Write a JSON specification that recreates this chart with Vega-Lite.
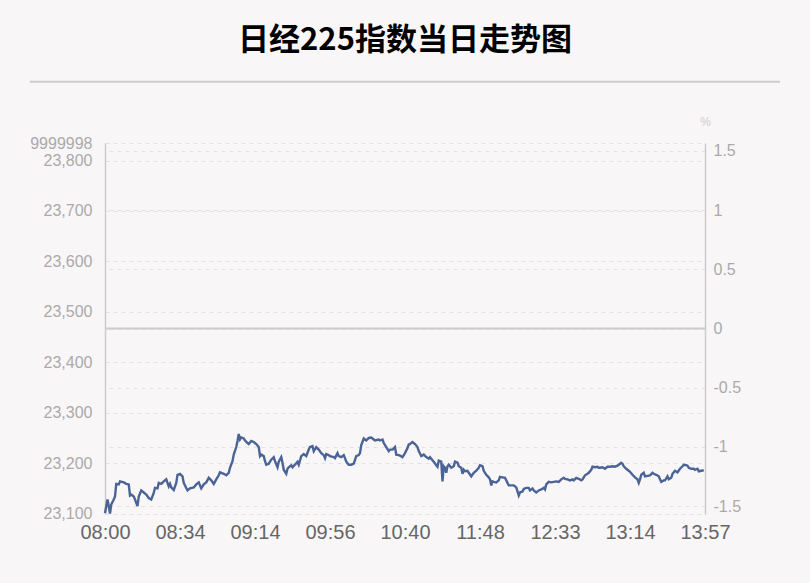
{
  "$schema": "https://vega.github.io/schema/vega-lite/v6.json",
  "width": 600,
  "height": 371,
  "autosize": "none",
  "padding": {"left": 105, "top": 143, "right": 105, "bottom": 69},
  "background": "#f9f6f7",
  "title": {
    "text": "日经225指数当日走势图",
    "font": "Noto Sans CJK SC",
    "fontSize": 31,
    "fontWeight": "bold",
    "color": "#000000",
    "anchor": "middle",
    "frame": "group",
    "offset": 24
  },
  "data": {
    "values": [
      {"i": 0, "v": 23101}, {"i": 2, "v": 23128}, {"i": 3, "v": 23115}, {"i": 4, "v": 23100},
      {"i": 5, "v": 23118}, {"i": 7, "v": 23128}, {"i": 8, "v": 23134}, {"i": 9, "v": 23159},
      {"i": 11, "v": 23158}, {"i": 12, "v": 23164}, {"i": 15, "v": 23162}, {"i": 17, "v": 23159},
      {"i": 19, "v": 23158}, {"i": 20, "v": 23136}, {"i": 21, "v": 23138}, {"i": 23, "v": 23134},
      {"i": 24, "v": 23128}, {"i": 26, "v": 23115}, {"i": 27, "v": 23134}, {"i": 29, "v": 23146},
      {"i": 31, "v": 23142}, {"i": 33, "v": 23138}, {"i": 35, "v": 23131}, {"i": 37, "v": 23128},
      {"i": 39, "v": 23141}, {"i": 40, "v": 23151}, {"i": 42, "v": 23150}, {"i": 43, "v": 23161},
      {"i": 45, "v": 23159}, {"i": 47, "v": 23164}, {"i": 49, "v": 23168}, {"i": 51, "v": 23154},
      {"i": 52, "v": 23159}, {"i": 53, "v": 23152}, {"i": 55, "v": 23147}, {"i": 57, "v": 23161},
      {"i": 58, "v": 23177}, {"i": 60, "v": 23179}, {"i": 62, "v": 23174}, {"i": 63, "v": 23161},
      {"i": 65, "v": 23151}, {"i": 66, "v": 23146}, {"i": 68, "v": 23150}, {"i": 71, "v": 23152},
      {"i": 73, "v": 23158}, {"i": 75, "v": 23162}, {"i": 77, "v": 23150}, {"i": 79, "v": 23158},
      {"i": 81, "v": 23162}, {"i": 83, "v": 23171}, {"i": 85, "v": 23166}, {"i": 87, "v": 23159},
      {"i": 89, "v": 23168}, {"i": 91, "v": 23176}, {"i": 92, "v": 23182}, {"i": 95, "v": 23179},
      {"i": 97, "v": 23176}, {"i": 99, "v": 23181}, {"i": 100, "v": 23191}, {"i": 102, "v": 23204},
      {"i": 103, "v": 23217}, {"i": 105, "v": 23232}, {"i": 106, "v": 23244}, {"i": 107, "v": 23258},
      {"i": 108, "v": 23247}, {"i": 109, "v": 23251}, {"i": 111, "v": 23249}, {"i": 112, "v": 23245},
      {"i": 114, "v": 23240}, {"i": 115, "v": 23238}, {"i": 117, "v": 23244}, {"i": 119, "v": 23242},
      {"i": 121, "v": 23238}, {"i": 123, "v": 23232}, {"i": 124, "v": 23214}, {"i": 125, "v": 23217},
      {"i": 127, "v": 23214}, {"i": 128, "v": 23204}, {"i": 129, "v": 23197}, {"i": 131, "v": 23199},
      {"i": 133, "v": 23207}, {"i": 135, "v": 23212}, {"i": 136, "v": 23204}, {"i": 138, "v": 23192},
      {"i": 139, "v": 23203}, {"i": 141, "v": 23212}, {"i": 142, "v": 23201}, {"i": 143, "v": 23187},
      {"i": 145, "v": 23179}, {"i": 146, "v": 23189}, {"i": 147, "v": 23192}, {"i": 149, "v": 23196},
      {"i": 150, "v": 23192}, {"i": 152, "v": 23197}, {"i": 154, "v": 23203}, {"i": 155, "v": 23197},
      {"i": 157, "v": 23214}, {"i": 159, "v": 23218}, {"i": 161, "v": 23214}, {"i": 163, "v": 23227},
      {"i": 164, "v": 23232}, {"i": 166, "v": 23234}, {"i": 167, "v": 23224}, {"i": 169, "v": 23232},
      {"i": 171, "v": 23227}, {"i": 173, "v": 23220}, {"i": 175, "v": 23216}, {"i": 176, "v": 23210},
      {"i": 177, "v": 23218}, {"i": 179, "v": 23216}, {"i": 180, "v": 23214}, {"i": 183, "v": 23212},
      {"i": 184, "v": 23210}, {"i": 186, "v": 23220}, {"i": 187, "v": 23214}, {"i": 189, "v": 23212},
      {"i": 191, "v": 23216}, {"i": 192, "v": 23210}, {"i": 193, "v": 23203}, {"i": 195, "v": 23197},
      {"i": 197, "v": 23197}, {"i": 199, "v": 23199}, {"i": 201, "v": 23214}, {"i": 203, "v": 23216},
      {"i": 204, "v": 23220}, {"i": 205, "v": 23236}, {"i": 207, "v": 23249}, {"i": 208, "v": 23247},
      {"i": 209, "v": 23245}, {"i": 211, "v": 23250}, {"i": 213, "v": 23251}, {"i": 215, "v": 23247},
      {"i": 216, "v": 23245}, {"i": 219, "v": 23247}, {"i": 220, "v": 23245}, {"i": 222, "v": 23247},
      {"i": 223, "v": 23240}, {"i": 225, "v": 23232}, {"i": 227, "v": 23224}, {"i": 228, "v": 23227},
      {"i": 230, "v": 23227}, {"i": 232, "v": 23232}, {"i": 233, "v": 23217}, {"i": 235, "v": 23216},
      {"i": 236, "v": 23215}, {"i": 238, "v": 23212}, {"i": 240, "v": 23220}, {"i": 242, "v": 23230},
      {"i": 243, "v": 23237}, {"i": 244, "v": 23238}, {"i": 246, "v": 23242}, {"i": 248, "v": 23238},
      {"i": 250, "v": 23232}, {"i": 251, "v": 23224}, {"i": 253, "v": 23214}, {"i": 255, "v": 23217},
      {"i": 257, "v": 23212}, {"i": 259, "v": 23209}, {"i": 260, "v": 23212}, {"i": 262, "v": 23206},
      {"i": 263, "v": 23203}, {"i": 265, "v": 23196}, {"i": 266, "v": 23193}, {"i": 267, "v": 23205},
      {"i": 269, "v": 23203}, {"i": 270, "v": 23164}, {"i": 271, "v": 23194}, {"i": 272, "v": 23191},
      {"i": 273, "v": 23181}, {"i": 274, "v": 23194}, {"i": 275, "v": 23197}, {"i": 277, "v": 23191},
      {"i": 279, "v": 23194}, {"i": 280, "v": 23203}, {"i": 282, "v": 23201}, {"i": 283, "v": 23194},
      {"i": 285, "v": 23191}, {"i": 286, "v": 23179}, {"i": 287, "v": 23187}, {"i": 288, "v": 23184},
      {"i": 290, "v": 23185}, {"i": 291, "v": 23181}, {"i": 293, "v": 23174}, {"i": 295, "v": 23181},
      {"i": 297, "v": 23185}, {"i": 299, "v": 23191}, {"i": 300, "v": 23196}, {"i": 302, "v": 23194},
      {"i": 303, "v": 23185}, {"i": 305, "v": 23177}, {"i": 307, "v": 23172}, {"i": 308, "v": 23168},
      {"i": 309, "v": 23156}, {"i": 310, "v": 23164}, {"i": 311, "v": 23163}, {"i": 313, "v": 23162},
      {"i": 315, "v": 23166}, {"i": 316, "v": 23173}, {"i": 318, "v": 23172}, {"i": 320, "v": 23171},
      {"i": 322, "v": 23161}, {"i": 323, "v": 23156}, {"i": 325, "v": 23156}, {"i": 327, "v": 23156},
      {"i": 329, "v": 23152}, {"i": 330, "v": 23144}, {"i": 331, "v": 23136}, {"i": 332, "v": 23142},
      {"i": 334, "v": 23144}, {"i": 335, "v": 23149}, {"i": 337, "v": 23151}, {"i": 339, "v": 23151},
      {"i": 340, "v": 23146}, {"i": 342, "v": 23150}, {"i": 343, "v": 23146}, {"i": 345, "v": 23142},
      {"i": 347, "v": 23146}, {"i": 349, "v": 23148}, {"i": 351, "v": 23151}, {"i": 352, "v": 23148},
      {"i": 353, "v": 23158}, {"i": 355, "v": 23163}, {"i": 357, "v": 23162}, {"i": 359, "v": 23163},
      {"i": 361, "v": 23164}, {"i": 363, "v": 23163}, {"i": 365, "v": 23168}, {"i": 367, "v": 23171},
      {"i": 368, "v": 23169}, {"i": 370, "v": 23168}, {"i": 372, "v": 23166}, {"i": 374, "v": 23168},
      {"i": 375, "v": 23166}, {"i": 377, "v": 23171}, {"i": 379, "v": 23169}, {"i": 381, "v": 23166},
      {"i": 382, "v": 23168}, {"i": 384, "v": 23176}, {"i": 386, "v": 23179}, {"i": 387, "v": 23181},
      {"i": 389, "v": 23187}, {"i": 390, "v": 23193}, {"i": 392, "v": 23192}, {"i": 394, "v": 23193},
      {"i": 395, "v": 23191}, {"i": 396, "v": 23191}, {"i": 398, "v": 23192}, {"i": 400, "v": 23189},
      {"i": 402, "v": 23193}, {"i": 404, "v": 23193}, {"i": 406, "v": 23194}, {"i": 408, "v": 23193},
      {"i": 410, "v": 23195}, {"i": 411, "v": 23197}, {"i": 413, "v": 23201}, {"i": 414, "v": 23199},
      {"i": 415, "v": 23194}, {"i": 417, "v": 23189}, {"i": 419, "v": 23185}, {"i": 420, "v": 23183},
      {"i": 422, "v": 23177}, {"i": 424, "v": 23172}, {"i": 426, "v": 23168}, {"i": 427, "v": 23161},
      {"i": 428, "v": 23168}, {"i": 429, "v": 23177}, {"i": 431, "v": 23181}, {"i": 432, "v": 23174},
      {"i": 434, "v": 23175}, {"i": 436, "v": 23176}, {"i": 438, "v": 23181}, {"i": 439, "v": 23179},
      {"i": 441, "v": 23177}, {"i": 443, "v": 23174}, {"i": 444, "v": 23168}, {"i": 445, "v": 23163},
      {"i": 447, "v": 23166}, {"i": 448, "v": 23166}, {"i": 450, "v": 23174}, {"i": 451, "v": 23168},
      {"i": 453, "v": 23171}, {"i": 454, "v": 23179}, {"i": 456, "v": 23185}, {"i": 458, "v": 23182},
      {"i": 460, "v": 23189}, {"i": 462, "v": 23194}, {"i": 463, "v": 23197}, {"i": 465, "v": 23196},
      {"i": 466, "v": 23195}, {"i": 467, "v": 23191}, {"i": 469, "v": 23189}, {"i": 471, "v": 23189},
      {"i": 472, "v": 23187}, {"i": 474, "v": 23189}, {"i": 475, "v": 23184}, {"i": 477, "v": 23185},
      {"i": 479, "v": 23186}
    ]
  },
  "layer": [
    {
      "mark": {"type": "line", "color": "#4a6496", "strokeWidth": 2.4},
      "encoding": {
        "x": {
          "field": "i",
          "type": "quantitative",
          "scale": {"domain": [0, 480], "nice": false, "zero": false},
          "axis": {
            "title": null,
            "values": [0, 60, 120, 180, 240, 300, 360, 420, 480],
            "labelExpr": "['08:00','08:34','09:14','09:56','10:40','11:48','12:33','13:14','13:57'][datum.value / 60]",
            "domain": false,
            "ticks": false,
            "grid": false,
            "labelFont": "Liberation Sans",
            "labelFontSize": 20,
            "labelColor": "#666666",
            "labelPadding": 8,
            "labelDx": -3,
            "labelFlush": false,
            "labelOverlap": false,
            "labelBound": false
          }
        },
        "y": {
          "field": "v",
          "type": "quantitative",
          "scale": {"domain": [23099.3, 23834.7], "nice": false, "zero": false},
          "axis": {
            "title": null,
            "orient": "left",
            "values": [23100, 23200, 23300, 23400, 23500, 23600, 23700, 23800, 23834.7],
            "labelExpr": "datum.value > 23830 ? '9999998' : format(datum.value, ',')",
            "domain": true,
            "domainColor": "#cccccc",
            "domainWidth": 1.5,
            "ticks": false,
            "grid": true,
            "gridColor": "#e2e2e2",
            "gridDash": [4, 4],
            "labelFont": "Liberation Sans",
            "labelFontSize": 16,
            "labelColor": "#aaaaaa",
            "labelPadding": 13,
            "labelOverlap": false,
            "labelBound": false
          }
        }
      }
    },
    {
      "data": {"values": [{}]},
      "layer": [
        {
          "mark": {"type": "rule", "color": "#cccccc", "strokeWidth": 2},
          "encoding": {
            "y": {
              "datum": 0,
              "type": "quantitative",
              "scale": {"domain": [-1.567, 1.567], "nice": false, "zero": false},
              "axis": {
                "orient": "right",
                "title": "%",
                "titleAngle": 0,
                "titleX": 0,
                "titleY": -22,
                "titleAlign": "center",
                "titleBaseline": "middle",
                "titleFont": "Liberation Sans",
                "titleFontSize": 12,
                "titleFontWeight": "normal",
                "titleColor": "#cccccc",
                "values": [-1.5, -1, -0.5, 0, 0.5, 1, 1.5],
                "labelExpr": "'' + datum.value",
                "domain": true,
                "domainColor": "#cccccc",
                "domainWidth": 1.5,
                "ticks": false,
                "grid": true,
                "gridColor": "#e2e2e2",
                "gridDash": [4, 4],
                "labelFont": "Liberation Sans",
                "labelFontSize": 16,
                "labelColor": "#aaaaaa",
                "labelPadding": 8,
                "labelOverlap": false,
                "labelBound": false
              }
            }
          }
        },
        {
          "mark": {"type": "rule", "color": "#cccccc", "strokeWidth": 2, "clip": false},
          "encoding": {
            "x": {"datum": -60, "type": "quantitative", "scale": {"domain": [0, 480], "nice": false, "zero": false}},
            "x2": {"datum": 540},
            "y": {"datum": 2.0836, "type": "quantitative", "scale": {"domain": [-1.567, 1.567], "nice": false, "zero": false}}
          }
        }
      ]
    }
  ],
  "resolve": {"scale": {"y": "independent"}},
  "config": {"view": {"stroke": null}}
}
